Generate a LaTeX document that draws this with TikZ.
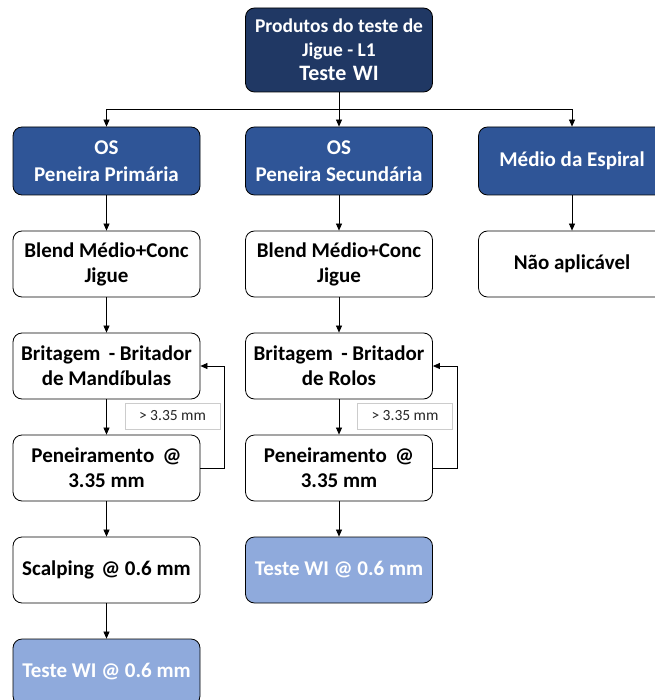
\documentclass[tikz,border=0pt]{standalone}
\usepackage{fontspec}
\setmainfont{Carlito}
\usetikzlibrary{arrows.meta}
\definecolor{navy}{HTML}{203864}
\definecolor{midblue}{HTML}{2F5597}
\definecolor{lightblue}{HTML}{8FAADC}
\tikzset{
  box/.style={draw=black, line width=0.8pt, rounded corners=9pt, align=center,
    minimum width=187pt, minimum height=66pt, inner sep=2pt,
    font=\bfseries\fontsize{21}{25}\selectfont},
  whitebox/.style={box, fill=white, text=black},
  headbox/.style={box, fill=midblue, text=white, minimum height=68pt,
    font=\bfseries\fontsize{21}{27}\selectfont},
  resultbox/.style={box, fill=lightblue, text=white},
  tag/.style={draw=black!20, fill=white, minimum width=95pt, minimum height=26pt,
    inner sep=0pt, text=black!85, font=\fontsize{15.5}{17}\selectfont},
  arr/.style={draw=black, line width=0.7pt, -{Triangle[length=7pt,width=6pt]}},
  link/.style={draw=black, line width=0.7pt},
}
\begin{document}
\begin{tikzpicture}[x=1pt, y=-1pt]
\useasboundingbox (0,0) rectangle (654,700);

% top node
\node[box, fill=navy, text=white, minimum height=84pt,
  font=\bfseries\fontsize{19.5}{24}\selectfont] (top) at (339,50)
  {Produtos do teste de\\Jigue - L1\\{\fontsize{22}{24}\selectfont Teste\hspace{0.3em}WI}};

% second row
\node[headbox] (os1) at (106.5,161) {OS\\Peneira Primária};
\node[headbox] (os2) at (339,161) {OS\\Peneira Secundária};
\node[headbox] (esp) at (572,161) {Médio da Espiral};

% third row
\node[whitebox] (bl1) at (106.5,264) {Blend Médio+Conc\\Jigue};
\node[whitebox] (bl2) at (339,264) {Blend Médio+Conc\\Jigue};
\node[whitebox] (na) at (572,264) {Não aplicável};

% crushing
\node[whitebox] (br1) at (106.5,366) {Britagem\hspace{0.4em}- Britador\\de Mandíbulas};
\node[whitebox] (br2) at (339,366) {Britagem\hspace{0.4em}- Britador\\de Rolos};

% screening
\node[whitebox] (pe1) at (106.5,468) {Peneiramento\hspace{0.4em}@\\3.35 mm};
\node[whitebox] (pe2) at (339,468) {Peneiramento\hspace{0.4em}@\\3.35 mm};

% scalping and WI tests
\node[whitebox] (sc1) at (106.5,570) {Scalping\hspace{0.35em}@ 0.6 mm};
\node[resultbox] (wi2) at (339,570) {Teste WI @ 0.6 mm};
\node[resultbox] (wi1) at (106.5,672) {Teste WI @ 0.6 mm};

% oversize tags
\node[tag] (t1) at (172.5,416) {> 3.35 mm};
\node[tag] (t2) at (405,416) {> 3.35 mm};

% distribution bus
\coordinate (bus) at (339,109);
\draw[link] (top.south) -- (bus);
\draw[arr] (bus) -| (os1.north);
\draw[arr] (bus) -- (os2.north);
\draw[arr] (bus) -| (esp.north);

% column links
\draw[arr] (os1) -- (bl1);
\draw[arr] (os2) -- (bl2);
\draw[arr] (esp) -- (na);
\draw[arr] (bl1) -- (br1);
\draw[arr] (bl2) -- (br2);
\draw[arr] (br1) -- (pe1);
\draw[arr] (br2) -- (pe2);
\draw[arr] (pe1) -- (sc1);
\draw[arr] (pe2) -- (wi2);
\draw[arr] (sc1) -- (wi1);

% recirculation of oversize
\draw[arr] (pe1.east) -- ++(24,0) |- (br1.east);
\draw[arr] (pe2.east) -- ++(24,0) |- (br2.east);
\end{tikzpicture}
\end{document}
